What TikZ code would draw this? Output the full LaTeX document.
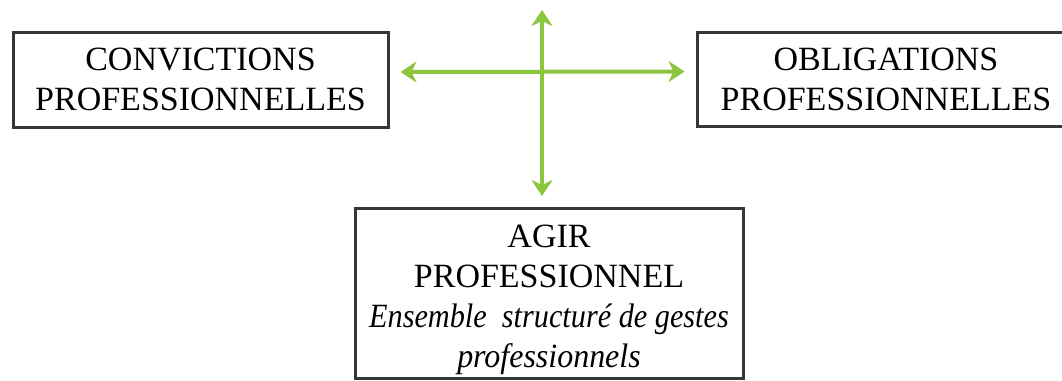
\documentclass[tikz,border=0pt]{standalone}
\usepackage{fontspec}
\setmainfont{Liberation Serif}
\usetikzlibrary{arrows.meta}
\definecolor{arrowgreen}{RGB}{140,198,63}
\definecolor{boxgray}{RGB}{55,55,55}
\begin{document}
\begin{tikzpicture}[x=1pt,y=-1pt,
  box/.style={draw=boxgray, line width=3pt, inner sep=0pt, align=center,
    font=\fontsize{34}{40}\selectfont},
  link/.style={draw=arrowgreen, line width=4pt,
    {Stealth[length=16pt,width=21pt,inset=5pt]}-{Stealth[length=16pt,width=21pt,inset=5pt]}}]
\clip (0,0) rectangle (1062,380);
\fill[white] (0,0) rectangle (1062,380);
\node[box, minimum width=375pt, minimum height=95pt] (conv) at (200.5,79.5)
  {CONVICTIONS\\PROFESSIONNELLES};
\node[box, minimum width=378pt, minimum height=94pt] (oblig) at (886,79)
  {OBLIGATIONS\\PROFESSIONNELLES};
\node[box, minimum width=388pt, minimum height=170pt] (agir) at (549,293)
  {\raisebox{-6pt}[\height][\depth]{\begin{tabular}{@{}c@{}}AGIR\\PROFESSIONNEL\\\scalebox{0.89}[1]{\itshape Ensemble\ \ structuré de gestes}\\\scalebox{0.94}[1]{\itshape professionnels}\end{tabular}}};
\coordinate (top) at (542,10);
\draw[link] ([yshift=7.5pt]conv.east) -- ([yshift=7.5pt]oblig.west)
  [shorten <=11pt, shorten >=11pt];
\draw[link, shorten >=10.5pt] (top) -- (top |- agir.north);
\end{tikzpicture}
\end{document}
